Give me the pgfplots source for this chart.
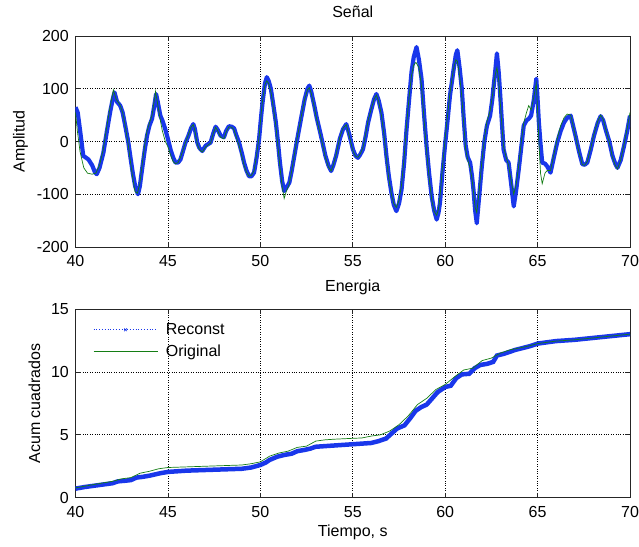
\documentclass[border=0pt]{standalone}
\usepackage{pgfplots}
\pgfplotsset{compat=1.18}
\usepackage{fontspec}
\setmainfont{Liberation Sans}

\definecolor{recblue}{RGB}{25,55,235}
\definecolor{origgreen}{RGB}{20,125,20}

% Reconstructed and original signal
\pgfplotstableread{
t v
40.00 65
40.12 55
40.24 23
40.42 -27
40.70 -34
40.90 -45
41.06 -59
41.15 -62
41.30 -50
41.51 -21
41.70 20
41.87 55
42.00 78
42.11 93
42.25 75
42.42 68
42.55 55
42.69 30
42.85 0
42.96 -27
43.10 -60
43.23 -85
43.38 -100
43.48 -85
43.60 -53
43.75 -15
43.87 11
44.00 30
44.14 43
44.25 65
44.36 90
44.45 75
44.59 49
44.70 40
44.86 23
45.00 5
45.14 -15
45.28 -30
45.41 -40
45.55 -40
45.68 -34
45.80 -20
45.95 -2
46.10 10
46.25 25
46.37 33
46.45 25
46.59 -2
46.70 -12
46.86 -18
47.04 -8
47.31 -2
47.45 15
47.58 28
47.70 22
47.85 11
48.03 8
48.15 20
48.30 29
48.45 28
48.58 25
48.70 12
48.85 -2
49.00 -22
49.12 -40
49.25 -55
49.39 -66
49.52 -66
49.66 -59
49.80 -30
49.93 4
50.05 50
50.12 74
50.25 110
50.35 122
50.45 115
50.57 100
50.70 70
50.84 36
50.95 0
51.06 -40
51.18 -75
51.29 -94
51.40 -88
51.57 -78
51.70 -55
51.84 -27
52.00 5
52.20 43
52.40 80
52.55 100
52.65 106
52.75 95
52.92 68
53.05 45
53.20 23
53.35 0
53.52 -27
53.68 -45
53.83 -56
53.95 -45
54.10 -27
54.30 5
54.47 23
54.65 33
54.80 15
55.01 -15
55.15 -27
55.28 -31
55.40 -25
55.55 -15
55.70 10
55.83 36
56.00 60
56.15 80
56.28 90
56.40 78
56.55 55
56.70 15
56.82 -27
56.95 -65
57.09 -97
57.22 -120
57.36 -132
57.50 -118
57.64 -91
57.78 -40
57.91 23
58.05 80
58.18 132
58.30 160
58.45 179
58.58 155
58.72 119
58.85 55
58.99 -8
59.13 -60
59.27 -104
59.40 -130
59.54 -148
59.64 -135
59.72 -116
59.85 -60
59.99 -8
60.13 40
60.26 87
60.45 135
60.58 165
60.66 173
60.78 140
60.90 100
61.00 45
61.11 -8
61.22 -30
61.35 -40
61.45 -65
61.53 -91
61.62 -130
61.71 -155
61.85 -100
61.98 -48
62.12 0
62.26 30
62.43 49
62.55 80
62.70 130
62.80 167
62.90 130
62.98 87
63.08 30
63.16 -15
63.30 -35
63.43 -40
63.57 -80
63.71 -123
63.85 -90
63.98 -53
64.12 -10
64.25 30
64.40 40
64.52 43
64.65 49
64.80 80
64.93 119
65.00 80
65.07 36
65.16 -5
65.25 -40
65.40 -42
65.52 -47
65.70 -59
65.88 -30
66.06 -2
66.25 20
66.43 36
66.60 45
66.79 49
66.92 30
67.05 11
67.25 -20
67.42 -43
67.55 -44
67.69 -40
67.88 -15
68.05 11
68.25 35
68.41 48
68.55 40
68.68 23
68.88 0
69.05 -27
69.20 -42
69.32 -50
69.50 -35
69.68 -8
69.85 20
70.00 49
}\reconst

\pgfplotstableread{
t v
40.00 55
40.10 20
40.25 -20
40.45 -50
40.65 -60
40.90 -62
41.10 -60
41.30 -45
41.50 -15
41.70 30
41.87 65
42.05 98
42.20 80
42.40 70
42.55 55
42.69 30
42.85 -5
42.96 -35
43.10 -70
43.22 -95
43.35 -98
43.48 -80
43.60 -45
43.75 -5
43.87 20
44.00 35
44.14 50
44.25 75
44.33 95
44.45 70
44.59 40
44.70 20
44.86 0
45.00 -10
45.14 -25
45.28 -38
45.41 -42
45.55 -40
45.68 -30
45.80 -18
45.95 -2
46.10 12
46.25 27
46.37 32
46.45 22
46.59 -5
46.70 -15
46.86 -20
47.04 -10
47.31 -3
47.45 15
47.58 27
47.70 20
47.85 8
48.03 5
48.15 18
48.30 28
48.45 27
48.58 22
48.70 8
48.85 -8
49.00 -28
49.12 -45
49.25 -58
49.39 -66
49.52 -64
49.66 -55
49.80 -25
49.93 8
50.05 55
50.12 78
50.25 108
50.35 115
50.45 110
50.57 95
50.70 65
50.84 30
50.95 -8
51.06 -48
51.18 -85
51.29 -108
51.40 -95
51.57 -80
51.70 -55
51.84 -25
52.00 8
52.20 45
52.40 80
52.55 98
52.65 102
52.75 92
52.92 65
53.05 42
53.20 20
53.35 -3
53.52 -30
53.68 -48
53.83 -56
53.95 -44
54.10 -25
54.30 8
54.47 25
54.65 32
54.80 12
55.01 -18
55.15 -28
55.28 -30
55.40 -24
55.55 -12
55.70 14
55.83 40
56.00 62
56.15 80
56.28 88
56.40 76
56.55 50
56.70 10
56.82 -32
56.95 -70
57.09 -100
57.22 -118
57.36 -125
57.50 -112
57.64 -82
57.78 -30
57.91 30
58.05 85
58.18 125
58.30 145
58.42 150
58.58 140
58.72 105
58.85 45
58.99 -15
59.13 -68
59.27 -110
59.40 -132
59.54 -140
59.64 -128
59.72 -105
59.85 -50
59.99 2
60.13 50
60.26 92
60.45 138
60.58 155
60.66 152
60.78 125
60.90 85
61.00 35
61.11 -15
61.22 -35
61.35 -50
61.45 -70
61.53 -95
61.62 -125
61.71 -135
61.85 -90
61.98 -40
62.12 5
62.26 38
62.43 58
62.55 85
62.70 125
62.80 140
62.90 115
62.98 75
63.08 25
63.16 -10
63.30 -30
63.43 -45
63.57 -75
63.71 -100
63.85 -80
63.98 -45
64.12 0
64.25 35
64.40 55
64.52 68
64.65 60
64.80 85
64.93 110
65.00 60
65.07 0
65.16 -60
65.25 -80
65.40 -60
65.52 -55
65.70 -55
65.88 -25
66.06 5
66.25 30
66.43 45
66.60 52
66.79 50
66.92 30
67.05 10
67.25 -22
67.42 -44
67.55 -45
67.69 -38
67.88 -12
68.05 14
68.25 38
68.41 50
68.55 42
68.68 24
68.88 -2
69.05 -30
69.20 -45
69.32 -52
69.50 -35
69.68 -5
69.85 25
70.00 55
}\original

% Accumulated squares, in units of 10^6
\pgfplotstableread{
t e
40.0 0.72
40.5 0.85
41.0 0.95
41.5 1.05
42.0 1.15
42.3 1.30
42.7 1.35
43.0 1.40
43.3 1.60
43.6 1.65
44.0 1.75
44.3 1.85
44.6 1.95
45.0 2.05
45.5 2.10
46.0 2.15
47.0 2.20
48.0 2.25
49.0 2.30
49.5 2.40
50.0 2.60
50.3 2.80
50.5 3.00
50.9 3.25
51.3 3.40
51.7 3.50
52.0 3.70
52.4 3.80
52.7 3.90
53.0 4.05
53.5 4.10
54.0 4.15
54.5 4.20
55.0 4.25
55.5 4.30
56.0 4.35
56.4 4.50
56.8 4.70
57.1 5.10
57.4 5.50
57.8 5.75
58.1 6.30
58.4 6.90
58.7 7.20
59.0 7.40
59.3 7.90
59.6 8.40
60.0 8.80
60.3 8.90
60.6 9.50
60.9 9.80
61.3 9.85
61.6 10.30
61.9 10.55
62.3 10.65
62.6 10.80
62.8 11.30
63.2 11.45
63.5 11.60
63.8 11.75
64.2 11.90
64.6 12.05
65.0 12.25
65.5 12.35
66.0 12.45
67.0 12.55
68.0 12.70
69.0 12.85
70.0 13.00
}\ereconst

\pgfplotstableread{
t e
40.0 0.78
41.0 1.05
42.0 1.30
42.5 1.50
43.0 1.60
43.5 1.95
44.0 2.10
44.5 2.30
45.0 2.40
46.0 2.45
47.0 2.50
48.0 2.55
49.0 2.60
49.5 2.70
50.0 2.85
50.5 3.30
51.0 3.55
51.5 3.70
52.0 4.00
52.5 4.10
53.0 4.50
53.5 4.60
54.0 4.65
55.0 4.72
55.5 4.75
56.0 4.90
56.5 5.00
57.0 5.30
57.5 5.80
58.0 6.50
58.5 7.40
59.0 7.90
59.5 8.60
60.0 9.00
60.5 9.60
61.0 10.15
61.5 10.30
62.0 10.90
62.5 11.10
63.0 11.50
63.5 11.75
64.0 11.90
64.5 12.05
65.0 12.25
65.5 12.35
66.0 12.45
67.0 12.55
68.0 12.70
69.0 12.85
70.0 13.00
}\eoriginal

\pgfplotsset{
  matlab/.style={
    scale only axis,
    width=554.5pt,
    xmin=40, xmax=70,
    xtick={40,45,...,70},
    grid=major,
    grid style={dotted, black, line width=0.7pt},
    axis line style={line width=0.8pt, black!85},
    tick align=inside,
    major tick length=5pt,
    tick style={black!85, line width=0.8pt},
    font=\fontsize{16}{19}\selectfont,
    /pgf/number format/assume math mode=true,
    xticklabel style={inner sep=1.5pt, yshift=-7pt},
    yticklabel style={inner sep=1.5pt, xshift=-5pt},
    title style={at={(axis description cs:0.5,1)}, anchor=base, yshift=12pt},
    clip=true,
  },
}

\begin{document}
\begin{tikzpicture}
\path[use as bounding box] (-75.5pt,-48.3pt) rectangle (563.5pt,497.7pt);

% Signal
\begin{axis}[matlab,
  at={(0pt,250.7pt)}, anchor=south west,
  height=211pt,
  ymin=-200, ymax=200,
  ytick={-200,-100,0,100,200},
  title={Señal},
  ylabel={Amplitud},
  every axis y label/.style={at={(axis description cs:0,0.5)}, xshift=-55pt, rotate=90, anchor=center},
]
\addplot[recblue, line width=4.2pt, line join=round] table[x=t, y=v] {\reconst};
\addplot[origgreen, line width=0.7pt] table[x=t, y=v] {\original};
\end{axis}

% Energy
\begin{axis}[matlab,
  at={(0pt,0pt)}, anchor=south west,
  height=188.7pt,
  ymin=0, ymax=15,
  ytick={0,5,10,15},
  title={Energia},
  ylabel={Acum cuadrados},
  every axis y label/.style={at={(axis description cs:0,0.5)}, xshift=-41pt, rotate=90, anchor=center},
  xlabel={Tiempo, s},
  every axis x label/.style={at={(axis description cs:0.5,0)}, yshift=-24pt, anchor=north},
  legend style={draw=none, fill=none, at={(axis description cs:0.026,0.945)}, anchor=north west,
    row sep=5pt, font=\fontsize{16}{19}\selectfont},
  legend cell align=left,
  legend image code/.code={\draw[mark repeat=2, mark phase=2, #1] plot coordinates {(0pt,0pt) (32pt,0pt) (64pt,0pt)}; \path (70pt,0pt);},
]
\addplot[recblue, line width=4.5pt, forget plot] table[x=t, y=e] {\ereconst};
\addlegendimage{recblue, dotted, line width=0.8pt, mark=x, mark size=2pt, mark options={solid, line width=0.6pt}}
\addlegendentry{Reconst}
\addplot[origgreen, line width=0.7pt] table[x=t, y=e] {\eoriginal};
\addlegendentry{Original}
\node[anchor=base west, inner sep=0pt, font=\fontsize{16}{19}\selectfont] at (axis description cs:0,1) [yshift=9pt] {x 10\textsuperscript{6}};
\end{axis}
\end{tikzpicture}
\end{document}
